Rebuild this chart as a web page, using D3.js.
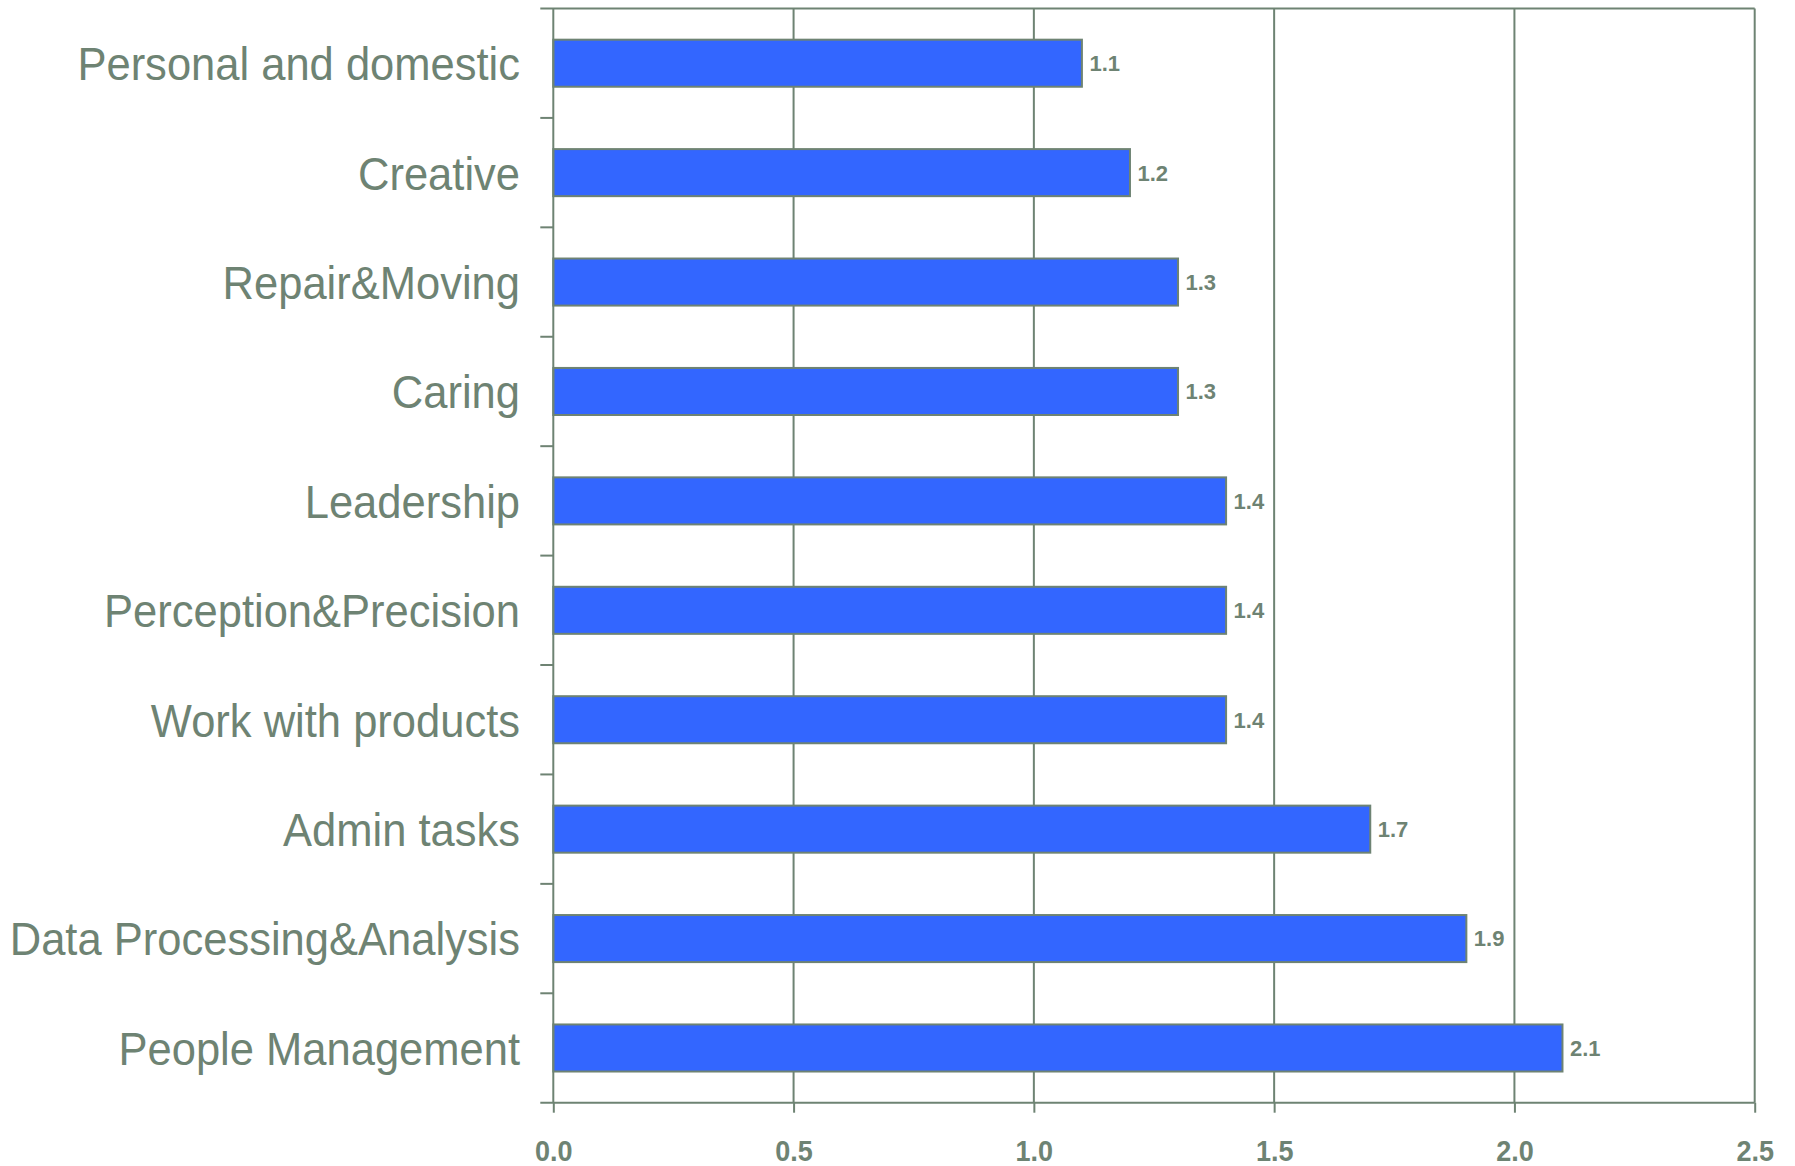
<!DOCTYPE html>
<html>
<head>
<meta charset="utf-8">
<script src="https://cdn.jsdelivr.net/npm/d3@7"></script>
<style>
  html, body { margin: 0; padding: 0; background: #ffffff; }
  svg { display: block; }
  text { font-family: "Liberation Sans", Arial, sans-serif; }
</style>
</head>
<body>
<svg id="chart" width="1795" height="1166"></svg>
<script>
// Skill categories, listed top to bottom
const categories = [
  "Personal and domestic",
  "Creative",
  "Repair&Moving",
  "Caring",
  "Leadership",
  "Perception&Precision",
  "Work with products",
  "Admin tasks",
  "Data Processing&Analysis",
  "People Management"
];
const values = [1.1, 1.2, 1.3, 1.3, 1.4, 1.4, 1.4, 1.7, 1.9, 2.1];
const xTicks = [0, 0.5, 1.0, 1.5, 2.0, 2.5];

const ink = "#6e8373";
const barFill = "#3366ff";

const margin = { top: 8.5, right: 40.3, bottom: 63.3, left: 553.3 };
const W = 1795, H = 1166;
const innerW = W - margin.left - margin.right;
const innerH = H - margin.top - margin.bottom;

const svg = d3.select("#chart");
const g = svg.append("g").attr("transform", `translate(${margin.left},${margin.top})`);

const x = d3.scaleLinear().domain([0, 2.5]).range([0, innerW]);
const y = d3.scaleBand().domain(categories).range([0, innerH]).paddingInner(0.57).paddingOuter(0.285);
const band = innerH / categories.length;

// vertical gridlines
g.append("g").selectAll("line")
  .data(xTicks.filter(t => t > 0))
  .join("line")
  .attr("x1", d => x(d)).attr("x2", d => x(d))
  .attr("y1", 0).attr("y2", innerH)
  .attr("stroke", ink).attr("stroke-width", 2);

// top border
g.append("line")
  .attr("x1", -13).attr("x2", innerW)
  .attr("y1", 0).attr("y2", 0)
  .attr("stroke", ink).attr("stroke-width", 2);

// bars
g.append("g").selectAll("rect")
  .data(categories)
  .join("rect")
  .attr("x", 0)
  .attr("y", d => y(d))
  .attr("width", (d, i) => x(values[i]))
  .attr("height", y.bandwidth())
  .attr("fill", barFill)
  .attr("stroke", ink)
  .attr("stroke-width", 2);

// value labels
g.append("g").selectAll("text")
  .data(categories)
  .join("text")
  .attr("x", (d, i) => x(values[i]) + 7.5)
  .attr("y", d => y(d) + y.bandwidth() / 2)
  .attr("dy", "0.36em")
  .attr("fill", ink)
  .attr("font-size", 22)
  .attr("font-weight", "bold")
  .text((d, i) => d3.format(".1f")(values[i]));

// left axis: separator ticks between categories
const yAxisG = g.append("g");
yAxisG.append("line")
  .attr("x1", 0).attr("x2", 0)
  .attr("y1", 0).attr("y2", innerH)
  .attr("stroke", ink).attr("stroke-width", 2);
yAxisG.selectAll("line.sep")
  .data(d3.range(1, categories.length))
  .join("line")
  .attr("class", "sep")
  .attr("x1", -13).attr("x2", 0)
  .attr("y1", d => d * band).attr("y2", d => d * band)
  .attr("stroke", ink).attr("stroke-width", 2);

// category labels (slightly condensed face)
const sx = 0.926;
yAxisG.selectAll("text")
  .data(categories)
  .join("text")
  .attr("transform", `scale(${sx},1)`)
  .attr("x", -33.3 / sx)
  .attr("y", d => y(d) + y.bandwidth() / 2)
  .attr("dy", "0.36em")
  .attr("text-anchor", "end")
  .attr("fill", ink)
  .attr("font-size", 47)
  .text(d => d);

// bottom axis
const xAxis = d3.axisBottom(x)
  .tickValues(xTicks)
  .tickFormat(d3.format(".1f"))
  .tickSize(10)
  .tickSizeOuter(0);
const xAxisG = g.append("g")
  .attr("transform", `translate(0,${innerH})`)
  .call(xAxis);
xAxisG.select(".domain").remove();
xAxisG.insert("line", ":first-child")
  .attr("x1", -13).attr("x2", innerW)
  .attr("y1", 0).attr("y2", 0)
  .attr("stroke", ink).attr("stroke-width", 2);
xAxisG.selectAll(".tick line").attr("stroke", ink).attr("stroke-width", 2);
xAxisG.selectAll(".tick text")
  .attr("fill", ink)
  .attr("font-size", 30)
  .attr("font-weight", "bold")
  .attr("font-family", "'Liberation Sans', Arial, sans-serif")
  .attr("transform", "scale(0.9,1)")
  .attr("y", 58)
  .attr("dy", null);
</script>
</body>
</html>
